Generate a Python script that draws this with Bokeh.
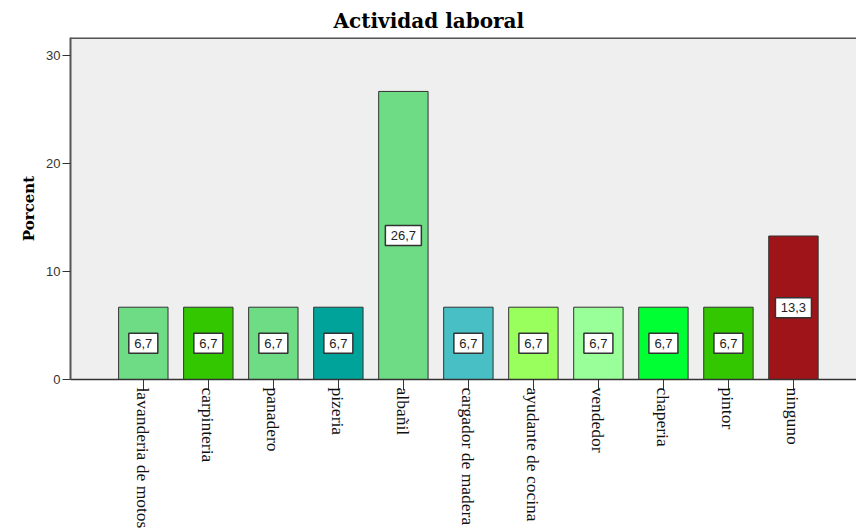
import math
from bokeh.plotting import figure
from bokeh.models import ColumnDataSource, FixedTicker, Range1d, Span
from bokeh.core.properties import value
from bokeh.embed import file_html
from bokeh.resources import INLINE

categories = ["lavanderia de motos", "carpinteria", "panadero", "pizeria", "albañil",
              "cargador de madera", "ayudante de cocina", "vendedor", "chaperia",
              "pintor", "ninguno"]
values = [6.7, 6.7, 6.7, 6.7, 26.7, 6.7, 6.7, 6.7, 6.7, 6.7, 13.3]
colors = ["#6EDB85", "#33C700", "#6EDB85", "#00A39A", "#6EDB85", "#47BFC4",
          "#99FF5C", "#99FF99", "#00FF33", "#33C700", "#9E1418"]
y_ticks = [0, 10, 20, 30]
y_max = 31.7

xs = list(range(len(categories)))
labs = [("%.1f" % v).replace(".", ",") for v in values]
src = ColumnDataSource(dict(
    x=xs, top=values, color=colors,
    mid=[v / 2 for v in values],
    lab=labs,
    bw=[8 + 7 * len(s) for s in labs],
))

p = figure(width=856, height=531, output_backend="svg", toolbar_location=None,
           x_range=Range1d(-1.12, 10.97), y_range=Range1d(0, y_max),
           min_border_left=70, min_border_top=37, min_border_bottom=152,
           min_border_right=0)

p.title.text = "Actividad laboral"
p.title.align = "left"
p.title.offset = 263
p.title.text_font = "DejaVu Serif"
p.title.text_font_size = "20px"
p.title.text_font_style = "bold"
p.title.text_color = "#000000"

p.background_fill_color = "#EFEFEF"
p.border_fill_color = "white"
p.outline_line_color = None
p.grid.visible = False

p.add_layout(Span(location=y_max, dimension="width", line_color="#555555",
                  line_width=3))

p.vbar(x="x", top="top", width=0.76, bottom=0, source=src,
       fill_color="color", line_color="#333333", line_width=1)

p.rect(x="x", y="mid", width="bw", height=20, width_units="screen",
       height_units="screen", source=src, fill_color="white",
       line_color="#333333", line_width=1.5)
p.text(x="x", y="mid", text="lab", source=src, text_align="center",
       text_baseline="middle", text_font=value("Liberation Sans"),
       text_font_size="13px", text_color="#222222")

p.xaxis.ticker = FixedTicker(ticks=xs)
p.xaxis.major_label_overrides = {i: c for i, c in enumerate(categories)}
p.xaxis.major_label_orientation = -math.pi / 2
p.xaxis.major_label_text_font = "Liberation Serif"
p.xaxis.major_label_text_font_size = "17.5px"
p.xaxis.major_label_text_color = "#111111"
p.xaxis.major_label_standoff = -3
p.xaxis.major_tick_out = 11
p.xaxis.major_tick_in = 0
p.xaxis.minor_tick_line_color = None
p.xaxis.axis_line_color = "#333333"
p.xaxis.axis_line_width = 1.5
p.xaxis.major_tick_line_color = "#333333"

p.yaxis.ticker = FixedTicker(ticks=y_ticks)
p.yaxis.axis_label = "Porcent"
p.yaxis.axis_label_text_font = "DejaVu Serif"
p.yaxis.axis_label_text_font_size = "15px"
p.yaxis.axis_label_text_font_style = "bold"
p.yaxis.axis_label_text_color = "#000000"
p.yaxis.major_label_text_font = "Liberation Sans"
p.yaxis.major_label_text_font_size = "13px"
p.yaxis.major_label_text_color = "#333333"
p.yaxis.major_tick_out = 8
p.yaxis.major_tick_in = 0
p.yaxis.minor_tick_line_color = None
p.yaxis.axis_line_color = "#555555"
p.yaxis.axis_line_width = 2
p.yaxis.major_tick_line_color = "#333333"
p.yaxis.major_label_standoff = 2

open("out.html", "w").write(file_html(p, INLINE))
